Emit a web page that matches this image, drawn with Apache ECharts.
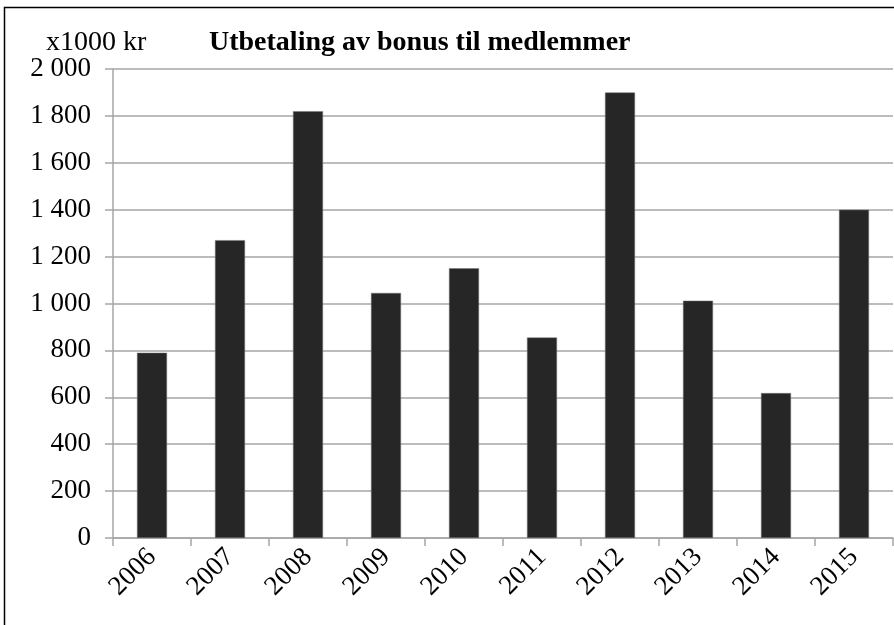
<!DOCTYPE html>
<html>
<head>
<meta charset="utf-8">
<script src="https://cdn.jsdelivr.net/npm/echarts@6/dist/echarts.min.js"></script>
<style>
  html, body { margin: 0; padding: 0; background: #fff; }
  #chart { width: 894px; height: 625px; }
</style>
</head>
<body>
<div id="chart"></div>
<script>
const years = ['2006', '2007', '2008', '2009', '2010', '2011', '2012', '2013', '2014', '2015']
const bonus = [790, 1270, 1820, 1045, 1150, 855, 1900, 1012, 618, 1400]

const chart = echarts.init(document.getElementById('chart'))
const serif = '"Liberation Serif", "DejaVu Serif", serif'

function thousands(v) {
  return String(v).replace(/\B(?=(\d{3})+(?!\d))/g, ' ')
}

chart.setOption({
  animation: false,
  graphic: [
    { type: 'rect', shape: { x: 4.5, y: 7.5, width: 900, height: 640 }, style: { fill: 'none', stroke: '#000', lineWidth: 1.5 } },
  ],
  title: [
    { text: 'x1000 kr', left: 41, top: 24, textStyle: { fontFamily: serif, fontWeight: 'normal', fontSize: 28, color: '#000' } },
    { text: 'Utbetaling av bonus til medlemmer', left: 204, top: 24, textStyle: { fontFamily: serif, fontWeight: 'bold', fontSize: 28, color: '#000' } },
  ],
  grid: { left: 113, right: 1, top: 69, bottom: 87 },
  xAxis: {
    type: 'category',
    data: years,
    axisLine: { lineStyle: { color: '#a6a6a6', width: 1.5 } },
    axisTick: { show: true, length: 8, lineStyle: { color: '#a6a6a6', width: 1.5 } },
    axisLabel: { rotate: 45, margin: 15, fontFamily: serif, fontSize: 27, color: '#000' },
  },
  yAxis: {
    type: 'value',
    min: 0,
    max: 2000,
    interval: 200,
    axisLine: { show: true, lineStyle: { color: '#a6a6a6', width: 1.5 } },
    axisTick: { show: true, length: 8, lineStyle: { color: '#a6a6a6', width: 1.5 } },
    splitLine: { lineStyle: { color: '#a6a6a6', width: 1.5 } },
    axisLabel: { margin: 22, fontFamily: serif, fontSize: 27, color: '#000', formatter: thousands },
  },
  series: [{
    type: 'bar',
    data: bonus,
    barWidth: 30,
    itemStyle: { color: '#262626', borderColor: '#777', borderWidth: 0.5 },
  }],
})
</script>
</body>
</html>
